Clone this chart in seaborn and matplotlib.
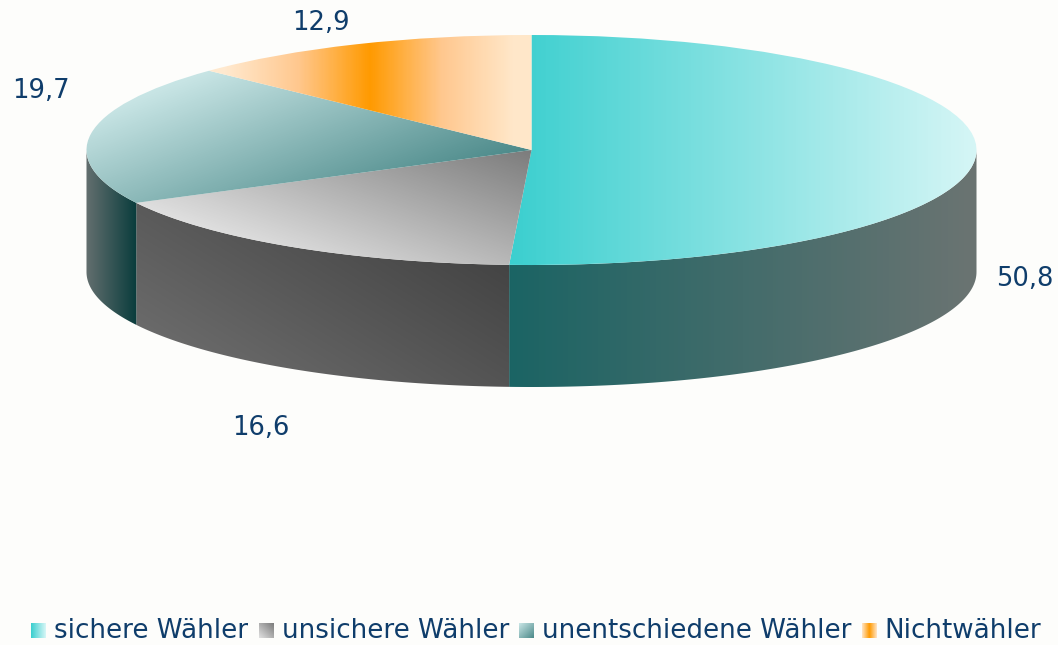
# Wahlbereitschaft: 3D-look pie with gradient fills
import numpy as np
import matplotlib
matplotlib.use('Agg')
import matplotlib.pyplot as plt
from matplotlib.patches import Polygon
import seaborn as sns

categories = ['sichere Wähler', 'unsichere Wähler', 'unentschiedene Wähler', 'Nichtwähler']
values = [50.8, 16.6, 19.7, 12.9]
value_labels = ['50,8', '16,6', '19,7', '12,9']

W, H = 1058, 645
CX, CY, RX, RY = 531.5, 150, 445, 115
DEPTH = 122 / RY
TEXT = '#0f3d6b'
BG = '#fdfdfb'

# top face gradients: colours, start point, end point (pixels)
top_fill = [
    (['#3bcfcf', '#d6f6f6'], (510, 0), (977, 0)),
    (['#7c7c7c', '#e4e4e4'], (531, 150), (464, 334)),
    (['#c8e5e5', '#4c8a8a'], (461, -29), (531, 150)),
    (['#ffe9cf', '#ffc88f', '#ff9a00', '#ffc88f', '#ffe8ca'], (225, 0), (515, 0)),
]
side_fill = [
    (['#1b6464', '#6b7472'], (510, 0), (977, 0)),
    (['#444444', '#6c6c6c'], (510, 265), (374, 487)),
    (['#626e6e', '#0c3e3e'], (87, 0), (135, 0)),
]
legend_fill = [
    (['#3bcfcf', '#d6f6f6'], (1, 0)),
    (['#e0e0e0', '#7c7c7c'], (1, -1)),
    (['#c8e5e5', '#4c8a8a'], (1, 1)),
    (['#ffe3c2', '#ff9a00', '#ffe3c2'], (1, 0)),
]
label_pos = [(1025, 286), (261, 435), (41, 98), (321, 30)]
legend_box_x = [31, 259, 519, 862]
legend_text_x = [54, 282, 542, 884]

sns.set_theme(style='white')
fig = plt.figure(figsize=(W / 100, H / 100), dpi=100, facecolor=BG)
ax = fig.add_axes([0, 0, 1, 1])
ax.set_facecolor(BG)

px, py = np.meshgrid(np.arange(W) + .5, np.arange(H) + .5)
full_extent = [-CX / RX, (W - CX) / RX, (CY - H) / RY, CY / RY]


def gradient(axis, clip, colors, p0, p1, zorder=2):
    dx, dy = p1[0] - p0[0], p1[1] - p0[1]
    t = ((px - p0[0]) * dx + (py - p0[1]) * dy) / float(dx * dx + dy * dy)
    cmap = sns.blend_palette(colors, as_cmap=True)
    im = axis.imshow(np.clip(t, 0, 1), cmap=cmap, vmin=0, vmax=1, extent=full_extent,
                     origin='upper', aspect='auto', zorder=zorder)
    im.set_clip_path(clip)
    return im


# pie in unit coordinates, the axis limits squash it into an ellipse
wedges, _ = ax.pie(values, startangle=90, counterclock=False, radius=1, center=(0, 0),
                   frame=True, colors=[BG] * 4, wedgeprops=dict(linewidth=0))

# outer wall of every slice that faces the viewer (lower half only)
edges = (90 - np.cumsum([0] + values) * 3.6) % 360
wall_range = [(360, edges[1]), (edges[1], edges[2]), (edges[2], 180)]
for (a0, a1), fill in zip(wall_range, side_fill):
    th = np.radians(np.linspace(a0, a1, 120))
    xs, ys = np.cos(th), np.sin(th)
    verts = np.r_[np.c_[xs, ys], np.c_[xs[::-1], ys[::-1] - DEPTH]]
    wall = Polygon(verts, closed=True, facecolor='none', linewidth=0)
    ax.add_patch(wall)
    gradient(ax, wall, *fill)

for wedge, fill in zip(wedges, top_fill):
    gradient(ax, wedge, *fill, zorder=3)

ax.set_xlim(full_extent[0], full_extent[1])
ax.set_ylim(full_extent[2], full_extent[3])
ax.set_aspect('auto')
ax.axis('off')

# overlay in pixel coordinates for the labels and legend
top = fig.add_axes([0, 0, 1, 1])
top.patch.set_alpha(0)
for label, (x, y) in zip(value_labels, label_pos):
    top.text(x, y, label, color=TEXT, fontsize=18.6, ha='center', va='baseline',
             family='DejaVu Sans')

gx, gy = np.meshgrid(np.linspace(0, 1, 32), np.linspace(0, 1, 32))
for name, (colors, d), bx, tx in zip(categories, legend_fill, legend_box_x, legend_text_x):
    cmap = sns.blend_palette(colors, as_cmap=True)
    t = gx * d[0] + gy * d[1]
    t = (t - t.min()) / (t.max() - t.min())
    top.imshow(t, cmap=cmap, extent=[bx, bx + 15, 638, 623], aspect='auto')
    top.text(tx, 638, name, color=TEXT, fontsize=18.8, ha='left', va='baseline',
             family='DejaVu Sans')
top.set_xlim(0, W)
top.set_ylim(H, 0)
top.axis('off')

fig.savefig('out.png', dpi=100, facecolor=BG)
